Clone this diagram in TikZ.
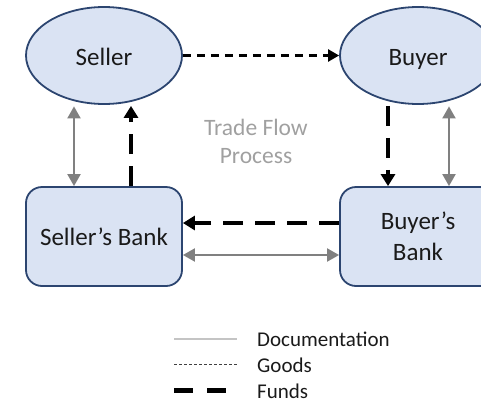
\documentclass[tikz,border=0pt]{standalone}
\usepackage{fontspec}
\setmainfont{Carlito}
\usetikzlibrary{arrows.meta,calc,shapes.geometric}
\definecolor{partyfill}{HTML}{DAE3F3}
\definecolor{partyline}{HTML}{2C4570}
\definecolor{docgray}{HTML}{808080}
\definecolor{legendgray}{HTML}{C4C4C4}
\definecolor{titlegray}{HTML}{A0A0A0}
\definecolor{inkblack}{HTML}{1A1A1A}
\tikzset{
  party/.style={ellipse, draw=partyline, fill=partyfill, line width=1.8pt,
    minimum width=156pt, minimum height=97pt, inner sep=0pt,
    text height=23pt, text depth=3pt,
    font=\fontsize{25}{30}\selectfont, text=inkblack},
  bankbox/.style={rectangle, rounded corners=16pt, draw=partyline, fill=partyfill,
    line width=1.8pt, minimum width=156pt, minimum height=99pt, inner sep=0pt,
    align=center, font=\fontsize{25}{31}\selectfont, text=inkblack},
  docflow/.style={draw=docgray, line width=2pt,
    {Triangle[length=12pt,width=13pt]}-{Triangle[length=12pt,width=13pt]}},
  goodsflow/.style={draw=black, line width=2.4pt, dash pattern=on 8pt off 6pt,
    -{Triangle[length=11pt,width=12pt]}},
  fundsflow/.style={draw=black, line width=4.5pt, dash pattern=on 20pt off 12pt,
    -{Triangle[length=12pt,width=14pt]}},
  legendtext/.style={anchor=west, inner sep=0pt, text=inkblack,
    font=\fontsize{21}{25}\selectfont},
}
\begin{document}
\begin{tikzpicture}[x=1pt,y=-1pt]
\useasboundingbox (0,0) rectangle (481,402);
\clip (0,0) rectangle (481,402);

% parties and their banks
\node[party] (seller) at (104,55.5) {Seller};
\node[party] (buyer) at (418,55.5) {Buyer};
\node[bankbox] (sbank) at (104,236.5) {Seller’s Bank};
\node[bankbox] (bbank) at (418,236.5) {Buyer’s\\Bank};

\node[text=titlegray, align=center, font=\fontsize{23.5}{28}\selectfont]
  (title) at (256,141) {Trade Flow\\Process};

% goods
\draw[goodsflow] (seller.east) -- (buyer.west);

% documentation
\draw[docflow] ($(seller.south)+(-30,1.5)$) -- ($(sbank.north)+(-30,0)$);
\draw[docflow] ($(buyer.south)+(31,1.5)$) -- ($(bbank.north)+(31,0)$);
\draw[docflow] ($(sbank.east)+(0,18.5)$) -- ($(bbank.west)+(0,18.5)$);

% funds
\draw[fundsflow] ($(sbank.north)+(27,0)$) -- ($(seller.south)+(27,1)$);
\draw[fundsflow] ($(buyer.south)+(-30,1)$) -- ($(bbank.north)+(-30,0)$);
\draw[fundsflow] ($(bbank.west)+(0,-13.5)$) -- ($(sbank.east)+(0,-13.5)$);

% legend
\coordinate (docA) at (174,339);   \coordinate (docB) at (237,339);
\coordinate (goodsA) at (174,364); \coordinate (goodsB) at (237,364);
\coordinate (fundsA) at (174,390); \coordinate (fundsB) at (226,390);
\draw[draw=legendgray, line width=1.5pt] (docA) -- (docB);
\draw[draw=black!75, line width=0.8pt, dash pattern=on 3pt off 2pt] (goodsA) -- (goodsB);
\draw[draw=black, line width=5pt, dash pattern=on 19pt off 14pt] (fundsA) -- (fundsB);
\node[legendtext] (docLabel) at (257,339) {Documentation};
\node[legendtext] (goodsLabel) at (257,365) {Goods};
\node[legendtext] (fundsLabel) at (257,391) {Funds};
\end{tikzpicture}
\end{document}
